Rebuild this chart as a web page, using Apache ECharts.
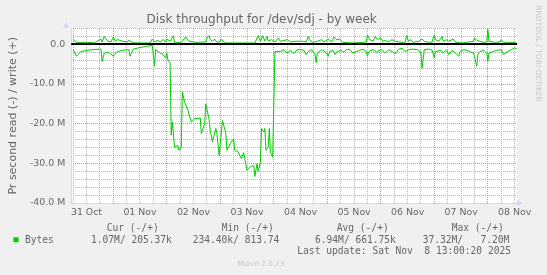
<!DOCTYPE html>
<html><head><meta charset="utf-8">
<script src="https://cdn.jsdelivr.net/npm/echarts@6/dist/echarts.min.js"></script>
<style>html,body{margin:0;padding:0;background:#f0f0f0}#c{width:547px;height:275px}</style>
</head><body><div id="c"></div>
<script>
// hours since 31 Oct 00:00, values in MB/s (read negative, write positive)
const readHours = [6,7.5,9.5,12.5,15.5,18.5,19,20,22,24,26,28.5,31,31.5,33,36,39,41.5,42.5,43,45,46.5,47.5,48,48.5,49.5,
  50,50.5,51.5,53,53.5,54.5,55,56,57.5,59,60.5,62,63,63.5,65,65.5,67,67.5,68.5,70,70.5,71.5,73,73.5,74.5,75,76.5,78,78.5,
  80,81.5,82.5,83,84,85.5,87,87.5,88.5,89,90,90.5,91.5,92,92.5,93.5,94,94.5,95,95.5,96,96.5,
  99,100.5,102,103.5,105,106.5,108,109.5,110.5,111.5,113,114.5,115,115.5,117.5,119,120.5,121,122.5,123.5,124.5,126,127.5,
  128.5,130,131.5,133,134.5,136,137.5,138,138.5,139.5,141,142.5,143,144.5,146,147.5,149,150.5,152,153.5,155,156.5,158,
  160.5,162,162.5,163.5,165.5,167,168,168.5,171,172,173.5,174.5,176,177.5,179,179.5,181,182.5,184,185.5,186,187,187.5,
  188.5,190,191.5,192,192.5,194.5,196,198,199,199.5,201,202.5,204,205];
const readMB = [-1.3,-3.0,-1.8,-1.5,-1.3,-1.2,-4.3,-2.2,-2.0,-3.0,-1.8,-1.5,-1.3,-3.0,-1.2,-0.8,-0.5,-0.25,-5.5,-1.3,-2.2,-2.6,-3.4,-2.2,-3.9,-4.7,
  -22.9,-19.6,-25.9,-25.5,-26.7,-26.0,-12.0,-14.5,-16.6,-19.6,-18.7,-18.7,-18.5,-22.5,-20.0,-15.0,-18.9,-21.7,-24.6,-21.2,-22.5,-28.0,-19.2,-18.8,-22.5,-26.7,-25.0,-23.8,-26.7,
  -27.1,-28.8,-27.3,-28.8,-31.8,-30.9,-30.5,-33.3,-30.1,-32.0,-29.7,-21.2,-22.1,-21.2,-26.7,-25.9,-21.2,-27.3,-27.0,-28.4,-28.0,-1.8,
  -1.8,-1.35,-2.2,-1.5,-2.3,-1.35,-1.35,-1.5,-2.6,-1.8,-1.35,-2.6,-4.6,-2.2,-1.35,-1.8,-3.0,-1.8,-1.5,-2.6,-1.8,-1.5,-2.0,
  -1.35,-1.2,-2.2,-1.8,-1.5,-1.2,-1.8,-3.0,-2.0,-1.5,-1.35,-2.2,-1.5,-1.35,-2.2,-1.35,-1.8,-2.4,-1.2,-1.0,-1.8,-1.35,-1.2,
  -1.35,-2.2,-6.0,-1.35,-1.2,-1.5,-3.4,-1.8,-1.5,-2.2,-1.35,-2.6,-1.5,-2.2,-3.0,-1.8,-1.35,-1.5,-1.8,-2.2,-3.0,-5.5,-2.6,
  -1.8,-1.5,-2.2,-4.3,-2.2,-1.8,-1.5,-1.35,-2.6,-2.2,-1.8,-1.35,-0.9,-1.07];
const writeHours = [6,7.5,12.5,15.5,18.5,19,20,20.5,21.5,22,23,24,25,26,27,28.5,30,31,31.5,33,37.5,40.5,41.5,42.5,44,45,46.5,47.5,48,49.5,
  51,51.5,54.5,56.5,58,61,65.5,66,67,67.5,68.5,69.5,70.5,71.5,72.5,74,81.5,87.5,89,90,91,92,93,93.5,95,96.5,98,99,102,103.5,106,
  109.5,110.5,111.5,112,113.5,115.5,117.5,118.5,120.5,122,123,124,125.5,127,131.5,136,137.5,138,139,140.5,141.5,142.5,143,144,145,
  146,147.5,149,150.5,153.5,155,155.5,156.5,157.5,158.5,161,162.5,163.5,165.5,167,168,168.5,170,171.5,172,173.5,174.5,176.5,177.5,
  180.5,182.5,185.5,186,187,188.5,190,191.5,192,192.5,195,197.5,198,199,201.5,204,205];
const writeMB = [1.2,0.5,0.5,0.4,1.3,0.6,2.0,2.4,0.8,1.0,0.6,1.85,0.8,1.2,1.0,0.76,0.6,1.0,0.5,0.4,0.34,0.34,1.34,0.6,1.0,0.6,1.2,0.6,1.34,0.76,
  2.2,0.5,0.5,1.85,0.76,0.5,0.6,1.6,2.2,1.18,0.76,1.34,0.5,0.6,1.34,0.34,0.34,0.34,2.2,0.76,2.2,0.8,2.0,0.8,1.2,0.6,1.6,0.76,1.18,0.6,0.8,
  0.76,0.6,2.0,1.2,0.5,0.76,1.18,0.6,1.34,0.6,1.85,1.2,1.34,0.5,0.34,0.5,0.6,2.4,1.2,0.76,2.0,1.2,0.8,1.6,0.76,
  1.0,0.6,1.18,0.76,0.5,0.6,2.2,0.76,1.18,0.5,0.76,1.34,0.76,0.5,0.6,2.4,1.18,0.76,2.0,0.76,1.18,0.76,1.34,0.5,
  0.34,0.5,0.76,1.6,1.0,0.76,0.5,0.6,3.8,0.76,0.5,0.6,1.18,0.5,0.5,0.5,0.2];
const dayLabels = ['31 Oct','01 Nov','02 Nov','03 Nov','04 Nov','05 Nov','06 Nov','07 Nov','08 Nov'];
const noonHours = [12,36,60,84,108,132,156,180,204];
const minorXHours = [6,12,18,30,36,42,54,60,66,78,84,90,102,108,114,126,132,138,150,156,162,174,180,186,198,204];
const majorXHours = [24,48,72,96,120,144,168,192];
const minorYValues = [-38,-36,-34,-32,-28,-26,-24,-22,-18,-16,-14,-12,-8,-6,-4,-2,2,4];
const majorYValues = [-30,-20,-10,0];
const yTickValues = [-40,-30,-20,-10,0];
const yTickLabels = ['-40.0 M','-30.0 M','-20.0 M','-10.0 M','0.0'];
const legendHeaders = ['Cur (-/+)','Min (-/+)','Avg (-/+)','Max (-/+)'];
const legendValues = ['1.07M/ 205.37k','234.40k/ 813.74','6.94M/ 661.75k','37.32M/   7.20M'];
const seriesName = 'Bytes';
const lastUpdate = 'Last update: Sat Nov  8 13:00:20 2025';

const GRAY = '#b4b4b4', RED = '#e58585', AXIS = '#CFD6F8', FONT = '#666666';
const X_MIN = 5.16, X_MAX = 205.07, Y_MIN = -40, Y_MAX = 4;
const pairs = (h, v) => h.map((x, i) => [x, v[i]]);
const headerX = [106.7, 221.7, 336.7, 451.7];
const valueX = [91, 192.7, 315, 422.7];

const graphic = [
  {type:'text', x:261.7, y:19.5, style:{text:'Disk throughput for /dev/sdj - by week', fontSize:12, fontFamily:'DejaVu Sans', fill:FONT, align:'center', verticalAlign:'middle'}},
  {type:'text', x:537.5, y:53.5, rotation:-Math.PI/2, style:{text:'RRDTOOL / TOBI OETIKER', fontSize:7.5, fontFamily:'DejaVu Sans', fill:'#c8c8c8', align:'center', verticalAlign:'middle'}},
  {type:'polygon', shape:{points:[[63,28],[69,28],[66,22]]}, style:{fill:AXIS}},
  {type:'polygon', shape:{points:[[517,200],[517,206],[523,203]]}, style:{fill:AXIS}},
  {type:'rect', shape:{x:13.5, y:237.3, width:5, height:5}, style:{fill:'#00cc00'}},
  {type:'text', x:25, y:240, style:{text:seriesName, fontSize:9.6, fontFamily:'DejaVu Sans Mono', fill:FONT, align:'left', verticalAlign:'middle'}},
  {type:'text', x:297.3, y:251.7, style:{text:lastUpdate, fontSize:9.6, fontFamily:'DejaVu Sans Mono', fill:FONT, align:'left', verticalAlign:'middle'}},
  {type:'text', x:260.7, y:264, style:{text:'Munin 2.0.73', fontSize:7.2, fontFamily:'DejaVu Sans', fill:'#c8c8c8', align:'center', verticalAlign:'middle'}}
];
legendHeaders.forEach((t, i) => graphic.push({type:'text', x:headerX[i], y:228.3, style:{text:t, fontSize:9.6, fontFamily:'DejaVu Sans Mono', fill:FONT, align:'left', verticalAlign:'middle'}}));
legendValues.forEach((t, i) => graphic.push({type:'text', x:valueX[i], y:240, style:{text:t, fontSize:9.6, fontFamily:'DejaVu Sans Mono', fill:FONT, align:'left', verticalAlign:'middle'}}));

// grid lines drawn as 1px dots so every dot is pixel-aligned
function vDots(color) {
  return function (params, api) {
    const cs = params.coordSys;
    const x = Math.floor(api.coord([api.value(0), Y_MIN])[0]);
    const children = [];
    for (let y = Math.ceil(cs.y); y < cs.y + cs.height; y += 2) {
      children.push({type:'rect', shape:{x:x, y:y, width:1, height:1}, style:{fill:color}});
    }
    return {type:'group', silent:true, children:children};
  };
}
function hDots(color) {
  return function (params, api) {
    const cs = params.coordSys;
    const y = Math.floor(api.coord([X_MIN, api.value(1)])[1]);
    const children = [];
    for (let x = Math.ceil(cs.x) + 1; x < cs.x + cs.width; x += 2) {
      children.push({type:'rect', shape:{x:x, y:y, width:1, height:1}, style:{fill:color}});
    }
    return {type:'group', silent:true, children:children};
  };
}
function zeroLine(params, api) {
  const cs = params.coordSys;
  const y = api.coord([X_MIN, api.value(1)])[1];
  return {type:'rect', silent:true, shape:{x:cs.x, y:Math.round(y) - 1, width:cs.width, height:2}, style:{fill:'#000000'}};
}

const chart = echarts.init(document.getElementById('c'), null, {renderer:'canvas'});
chart.setOption({
  animation:false,
  backgroundColor:'#f0f0f0',
  grid:{left:66, right:30, top:28.48, bottom:71.97, show:true, backgroundColor:'#ffffff', borderWidth:0},
  xAxis:{type:'value', min:X_MIN, max:X_MAX,
    axisLine:{show:true, onZero:false, lineStyle:{color:AXIS, width:1}},
    axisTick:{show:false},
    axisLabel:{color:FONT, fontSize:9.4, fontFamily:'DejaVu Sans', margin:5, customValues:noonHours,
      showMinLabel:true, showMaxLabel:true, alignMinLabel:'center', alignMaxLabel:'center', hideOverlap:false,
      formatter:v => { const i = noonHours.indexOf(v); return i >= 0 ? dayLabels[i] : ''; }},
    splitLine:{show:false}
  },
  yAxis:{type:'value', min:Y_MIN, max:Y_MAX,
    name:'Pr second read (-) / write (+)', nameLocation:'middle', nameGap:49,
    nameTextStyle:{color:FONT, fontSize:11, fontFamily:'DejaVu Sans'},
    axisLine:{show:true, onZero:false, lineStyle:{color:AXIS, width:1}},
    axisTick:{show:false},
    axisLabel:{color:FONT, fontSize:9.4, fontFamily:'DejaVu Sans', margin:6, customValues:yTickValues,
      showMinLabel:true, showMaxLabel:true,
      formatter:v => { const i = yTickValues.indexOf(v); return i >= 0 ? yTickLabels[i] : ''; }},
    splitLine:{show:false}
  },
  series:[
    {type:'custom', name:'minor x grid', data:minorXHours.map(h => [h, Y_MIN]), renderItem:vDots(GRAY), z:1, silent:true},
    {type:'custom', name:'minor y grid', data:minorYValues.map(v => [X_MIN, v]), renderItem:hDots(GRAY), z:1, silent:true},
    {type:'custom', name:'major x grid', data:majorXHours.map(h => [h, Y_MIN]), renderItem:vDots(RED), z:2, silent:true},
    {type:'custom', name:'major y grid', data:majorYValues.map(v => [X_MIN, v]), renderItem:hDots(RED), z:2, silent:true},
    {type:'line', name:'read', data:pairs(readHours, readMB), showSymbol:false, symbol:'none',
      lineStyle:{color:'#00cc00', width:1}, z:3},
    {type:'line', name:'write', data:pairs(writeHours, writeMB), showSymbol:false, symbol:'none',
      lineStyle:{color:'#00cc00', width:1}, z:3},
    {type:'custom', name:'zero line', data:[[X_MIN, 0]], renderItem:zeroLine, z:4, silent:true}
  ],
  graphic:graphic
});
</script></body></html>
